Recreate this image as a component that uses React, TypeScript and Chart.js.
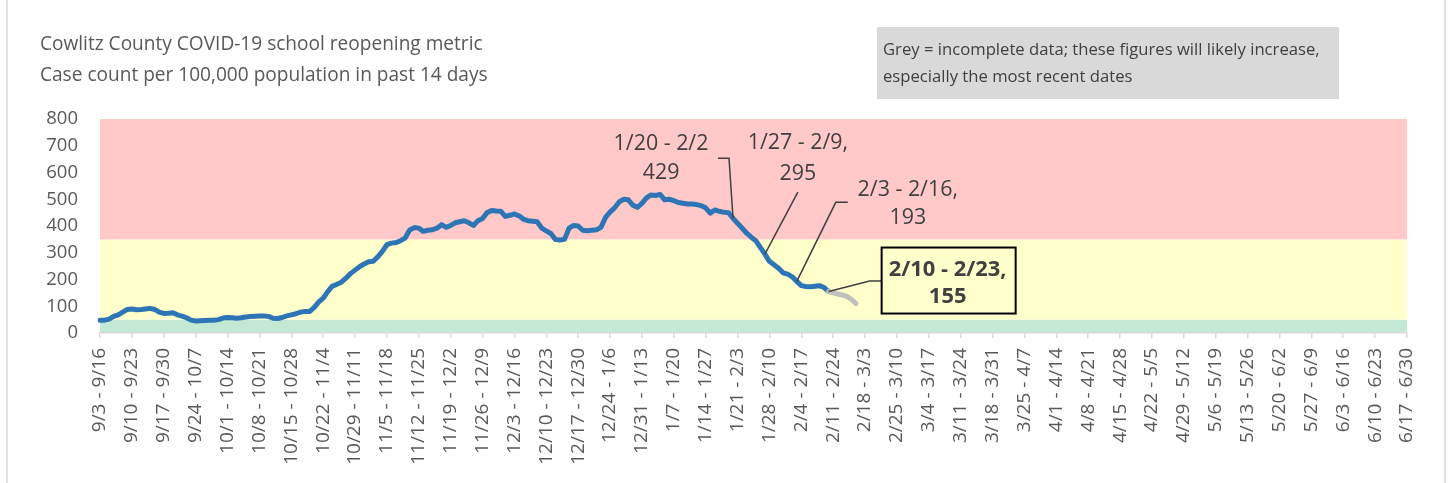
import React, { useEffect, useRef } from 'react';
import { Chart, registerables } from 'chart.js';

Chart.register(...registerables);

// ---------- data ----------
const tickLabels = [
  '9/3 - 9/16', '9/10 - 9/23', '9/17 - 9/30', '9/24 - 10/7', '10/1 - 10/14', '10/8 - 10/21',
  '10/15 - 10/28', '10/22 - 11/4', '10/29 - 11/11', '11/5 - 11/18', '11/12 - 11/25', '11/19 - 12/2',
  '11/26 - 12/9', '12/3 - 12/16', '12/10 - 12/23', '12/17 - 12/30', '12/24 - 1/6', '12/31 - 1/13',
  '1/7 - 1/20', '1/14 - 1/27', '1/21 - 2/3', '1/28 - 2/10', '2/4 - 2/17', '2/11 - 2/24',
  '2/18 - 3/3', '2/25 - 3/10', '3/4 - 3/17', '3/11 - 3/24', '3/18 - 3/31', '3/25 - 4/7',
  '4/1 - 4/14', '4/8 - 4/21', '4/15 - 4/28', '4/22 - 5/5', '4/29 - 5/12', '5/6 - 5/19',
  '5/13 - 5/26', '5/20 - 6/2', '5/27 - 6/9', '6/3 - 6/16', '6/10 - 6/23', '6/17 - 6/30',
];
const labelEvery = 7;
const dayCount = 288; // daily windows from 9/3 through 6/17

// complete data (blue), daily from 9/3 - 9/16
const completeValues = [
  48, 48, 52, 62, 68, 78, 88, 90, 87, 88, 90, 92, 88, 78, 73, 74, 76, 68, 63, 57,
  48, 45, 46, 47, 48, 48, 50, 56, 58, 57, 55, 57, 60, 62, 63, 64, 64, 62, 55, 54,
  58, 64, 68, 72, 78, 80, 80, 95, 115, 130, 155, 175, 182, 190, 205, 222, 235, 248, 258, 266,
  268, 285, 305, 330, 336, 338, 345, 355, 385, 394, 392, 380, 384, 386, 392, 405, 395, 402, 412, 416,
  420, 412, 402, 420, 428, 450, 458, 456, 455, 436, 440, 445, 438, 425, 420, 418, 416, 392, 382, 372,
  350, 348, 350, 392, 402, 400, 384, 382, 384, 386, 395, 432, 452, 468, 490, 500, 498, 478, 470, 485,
  505, 516, 514, 518, 498, 500, 495, 488, 485, 482, 482, 480, 476, 468, 448, 460, 455, 451, 450, 429,
  410, 392, 373, 358, 345, 320, 295, 268, 255, 242, 225, 220, 210, 193, 177, 174, 173, 175, 177, 170,
  155,
];
// incomplete data (grey), starting at 2/10 - 2/23
const incompleteStart = 160;
const incompleteValues = [155, 150, 146, 142, 137, 126, 110];

const yTicks = { min: 0, max: 800, step: 100 };
const bandEdges = [0, 50, 350, 800];

const callouts = [
  { index: 139, line1: '1/20 - 2/2', line2: '429' },
  { index: 146, line1: '1/27 - 2/9,', line2: '295' },
  { index: 153, line1: '2/3 - 2/16,', line2: '193' },
  { index: 160, line1: '2/10 - 2/23,', line2: '155' },
];

const titleLines = [
  'Cowlitz County COVID-19 school reopening metric',
  'Case count per 100,000 population in past 14 days',
];
const noteLines = [
  'Grey = incomplete data; these figures will likely increase,',
  'especially the most recent dates',
];

// ---------- styles / layout ----------
const W = 1448;
const H = 483;
const FONT = '"Open Sans", "Noto Sans", sans-serif';
const bandColors = ['#C3E9D5', '#FFFFCC', '#FFC9C9'];
const blue = '#2E75B6';
const grey = '#BFBFBF';
const textGrey = '#595959';
const darkText = '#404040';

// callout geometry: offsets (px) relative to the data point
const calloutLayout = [
  { leader: [[-4, -60], [-15, -60]], text: [-72, -74, -45] },
  { leader: [[33, -62]], text: [33, -111, -80] },
  { leader: [[39, -79], [51, -79]], text: [111, -91, -63] },
  { leader: [[41, -10.5], [53, -10.5]], text: [119, -21.5, 5], box: [53, -44, 134, 66] },
];

function fitSize(ctx: CanvasRenderingContext2D, text: string, width: number, weight = 'normal') {
  ctx.font = `${weight} 100px ${FONT}`;
  return (100 * width) / ctx.measureText(text).width;
}

const decorPlugin = {
  id: 'decor',
  beforeDraw(chart: any) {
    const { ctx, chartArea: ca, scales } = chart;
    const y = scales.y;
    ctx.save();
    for (let b = 0; b < bandColors.length; b++) {
      const top = y.getPixelForValue(bandEdges[b + 1]);
      const bottom = y.getPixelForValue(bandEdges[b]);
      ctx.fillStyle = bandColors[b];
      ctx.fillRect(ca.left, top, ca.right - ca.left, bottom - top);
    }
    ctx.restore();
  },
  afterDatasetsDraw(chart: any) {
    const { ctx, scales } = chart;
    const x = scales.x;
    const y = scales.y;
    ctx.save();
    const annSize = fitSize(ctx, '1/20 - 2/2', 95);
    const boldSize = fitSize(ctx, '2/10 - 2/23,', 118, 'bold');
    callouts.forEach((c, k) => {
      const L = calloutLayout[k];
      const value = c.index < completeValues.length ? completeValues[c.index] : incompleteValues[0];
      const px = x.getPixelForValue(c.index);
      const py = y.getPixelForValue(value);
      ctx.strokeStyle = darkText;
      ctx.lineWidth = 1.5;
      ctx.beginPath();
      ctx.moveTo(px, py);
      L.leader.forEach(([dx, dy]) => ctx.lineTo(px + dx, py + dy));
      ctx.stroke();
      const isBox = !!L.box;
      if (L.box) {
        const [bx, by, bw, bh] = L.box;
        ctx.fillStyle = '#FFFFCC';
        ctx.fillRect(px + bx, py + by, bw, bh);
        ctx.strokeStyle = '#000000';
        ctx.lineWidth = 2;
        ctx.strokeRect(px + bx, py + by, bw, bh);
      }
      ctx.fillStyle = darkText;
      ctx.font = isBox ? `bold ${boldSize}px ${FONT}` : `${annSize}px ${FONT}`;
      ctx.textAlign = 'center';
      ctx.textBaseline = 'middle';
      ctx.fillText(c.line1, px + L.text[0], py + L.text[1]);
      ctx.fillText(c.line2, px + L.text[0], py + L.text[2]);
    });
    ctx.restore();
  },
  afterDraw(chart: any) {
    const { ctx } = chart;
    ctx.save();
    // outer frame lines
    ctx.strokeStyle = '#D9D9D9';
    ctx.lineWidth = 1.5;
    ctx.beginPath();
    ctx.moveTo(7, 0);
    ctx.lineTo(7, H);
    ctx.moveTo(1445, 0);
    ctx.lineTo(1445, H);
    ctx.stroke();
    // title
    const tSize = fitSize(ctx, titleLines[0], 443);
    ctx.font = `${tSize}px ${FONT}`;
    ctx.fillStyle = textGrey;
    ctx.textAlign = 'left';
    ctx.textBaseline = 'middle';
    ctx.fillText(titleLines[0], 40, 45);
    ctx.fillText(titleLines[1], 40, 76);
    // note box
    ctx.fillStyle = '#D9D9D9';
    ctx.fillRect(877, 27, 462, 72);
    const nSize = fitSize(ctx, noteLines[0], 437);
    ctx.font = `${nSize}px ${FONT}`;
    ctx.fillStyle = darkText;
    ctx.fillText(noteLines[0], 883, 50);
    ctx.fillText(noteLines[1], 883, 77);
    ctx.restore();
  },
};

export default function App() {
  const ref = useRef<HTMLCanvasElement | null>(null);
  useEffect(() => {
    document.body.style.margin = '0';
    const labels = Array.from({ length: dayCount }, (_, i) =>
      i % labelEvery === 0 ? tickLabels[i / labelEvery] : ''
    );
    const blueData = Array.from({ length: dayCount }, (_, i) =>
      i < completeValues.length ? completeValues[i] : null
    );
    const greyData = Array.from({ length: dayCount }, (_, i) =>
      i >= incompleteStart && i < incompleteStart + incompleteValues.length
        ? incompleteValues[i - incompleteStart]
        : null
    );
    const chart = new Chart(ref.current as HTMLCanvasElement, {
      type: 'line',
      data: {
        labels,
        datasets: [
          {
            data: greyData,
            borderColor: grey,
            borderWidth: 5,
            pointRadius: 0,
            borderCapStyle: 'round',
            borderJoinStyle: 'round',
            tension: 0,
            spanGaps: false,
          },
          {
            data: blueData,
            borderColor: blue,
            borderWidth: 5,
            pointRadius: 0,
            borderCapStyle: 'round',
            borderJoinStyle: 'round',
            tension: 0,
            spanGaps: false,
          },
        ],
      },
      options: {
        responsive: false,
        animation: false,
        events: [],
        layout: { padding: { left: 0, right: 41, top: 119, bottom: 0 } },
        plugins: { legend: { display: false }, tooltip: { enabled: false }, title: { display: false } },
        scales: {
          x: {
            type: 'category',
            offset: false,
            border: { display: true, color: '#D9D9D9', width: 1.5 },
            grid: { display: true, drawOnChartArea: false, drawTicks: true, tickLength: 5, color: '#D9D9D9', lineWidth: 1.5 },
            ticks: {
              autoSkip: false,
              maxRotation: 90,
              minRotation: 90,
              padding: 10,
              color: textGrey,
              font: { family: FONT, size: 19 },
              callback: (_v: any, i: number) => (i % labelEvery === 0 ? tickLabels[i / labelEvery] : null),
            },
            afterFit: (scale: any) => {
              scale.height = 150;
            },
          },
          y: {
            min: yTicks.min,
            max: yTicks.max,
            border: { display: false },
            grid: { display: false, drawTicks: false },
            ticks: {
              stepSize: yTicks.step,
              padding: 22,
              color: textGrey,
              font: { family: FONT, size: 18.5 },
            },
            afterFit: (scale: any) => {
              scale.width = 100;
            },
          },
        },
      },
      plugins: [decorPlugin],
    } as any);
    return () => chart.destroy();
  }, []);
  return <canvas ref={ref} width={W} height={H} style={{ display: 'block' }} />;
}
